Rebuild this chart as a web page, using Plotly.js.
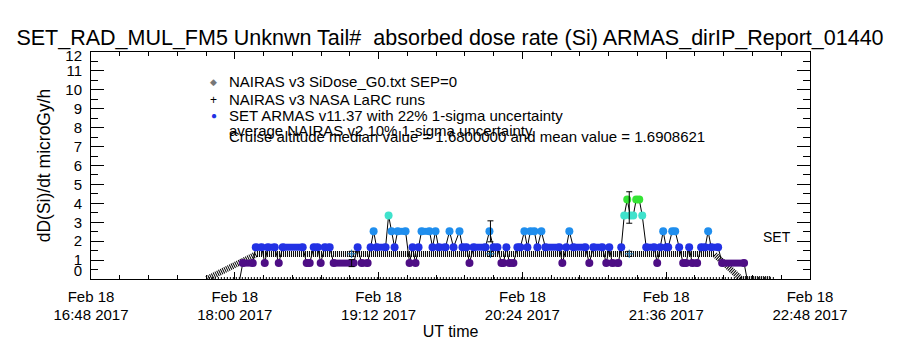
<!DOCTYPE html>
<html>
<head>
<meta charset="utf-8">
<script src="https://cdn.plot.ly/plotly-3.0.1.min.js"></script>
<style>html,body{margin:0;padding:0;background:#fff;}#chart{width:900px;height:350px;}</style>
</head>
<body>
<div id="chart"></div>
<script>
// ---------------- data ----------------
const flightDate = '2017-02-18';

// ARMAS SET dose rate samples (UT, microGy/h); consecutive equal values = constant run
const armasTime = ['18:02:30','18:04:00','18:09:00','18:10:30','18:13:30','18:15:00','18:16:30','18:20:00','18:22:00','18:24:00',
 '18:34:00','18:36:00','18:37:30','18:39:30','18:41:30','18:43:00','18:45:00','18:47:30','18:49:30','18:59:30',
 '19:01:30','19:03:30','19:06:30','19:08:00','19:09:30','19:11:00','19:15:30','19:17:00','19:18:30','19:20:00',
 '19:21:30','19:25:30','19:27:30','19:29:00','19:30:30','19:32:00','19:33:30','19:37:30','19:39:00','19:40:30',
 '19:42:00','19:45:30','19:47:30','19:49:30','19:52:30','19:54:00','19:56:00','19:57:30','19:59:30','20:05:30',
 '20:07:30','20:09:30','20:11:30','20:13:30','20:14:30','20:16:00','20:17:30','20:19:30','20:21:30','20:23:00',
 '20:25:00','20:26:30','20:28:00','20:30:00','20:31:30','20:33:30','20:35:30','20:42:30','20:44:00','20:46:00',
 '20:47:30','20:49:30','20:55:30','20:57:30','20:59:30','21:04:00','21:06:00','21:07:30','21:09:00','21:12:00',
 '21:13:30','21:15:00','21:16:30','21:18:00','21:19:30','21:21:00','21:22:30','21:24:00','21:26:00','21:30:00',
 '21:31:30','21:33:00','21:34:30','21:36:00','21:37:00','21:39:00','21:40:30','21:42:30','21:44:30','21:46:00',
 '21:47:30','21:49:00','21:51:30','21:53:30','21:55:30','21:57:00','21:58:30','22:02:00','22:04:00','22:15:00',
 '22:16:30'];
const armasDose = [0,0.84,0.84,1.68,1.68,0.84,1.68,1.68,0.84,1.68,
 1.68,0.84,0.84,1.68,1.68,0.84,1.68,1.68,0.84,0.84,
 1.68,0.84,0.84,1.68,2.52,1.68,1.68,3.36,2.52,1.68,
 2.52,2.52,0.84,1.68,0.84,1.68,2.52,2.52,1.68,2.52,
 1.68,1.68,2.52,1.68,2.52,1.68,1.68,0.84,1.68,1.68,
 2.52,1.68,1.68,0.84,0.84,1.68,0.84,0.84,1.68,1.68,
 2.52,1.68,2.52,2.52,1.68,2.52,1.68,1.68,0.84,1.68,
 2.52,1.68,1.68,0.84,1.68,1.68,0.84,1.68,0.84,0.84,
 1.68,3.36,4.2,3.36,3.36,4.2,4.2,3.36,1.68,1.68,
 0.84,1.68,2.52,1.68,1.68,2.52,2.52,1.68,0.84,0.84,
 1.68,0.84,0.84,1.68,1.68,2.52,1.68,1.68,0.84,0.84,
 0];

// ARMAS 22% 1-sigma uncertainty points
const armasErrTime = ['18:58:30','20:08:00','21:17:30'];
const armasErrDose = [0.84,2.52,3.78];
const armasErrPct = 22;

// NAIRAS v3 NASA LaRC runs (10% 1-sigma)
const larcTime = ['18:58:30','20:08:00','21:17:30'];
const larcDose = [1.33,1.33,1.33];
const larcErrPct = 10;

// NAIRAS v3 SiDose_G0.txt SEP=0 profile
const nairasTime = ['17:46:00','18:11:00','22:00:00','22:13:30','22:28:30'];
const nairasDose = [0,1.32,1.32,0,0];

// SEP component (zero)
const sepTime = ['17:47:00','22:30:00'];
const sepDose = [0,0];

const doseLevels = [0.84,1.68,2.52,3.36,4.2];
const levelColors = ['#4e0e85','#2231e4','#1f8eee','#3fe2cc','#34e434'];

// y tick labels (as placed by the original plot: end labels pulled inside)
const yTickText = ['0','1','2','3','4','5','6','7','8','9','10','11','12'];
const yTickLabelPos = [0.42,1,2,3,4,5,6,7,8,9,10,11,11.8];

// ---------------- build ----------------
const d = t => flightDate + ' ' + t;
const colorOf = v => levelColors[doseLevels.indexOf(v)];

const traces = [];
traces.push({x: nairasTime.map(d), y: nairasDose, mode:'lines', line:{color:'#000', width:6, dash:'1px,1px'}, hoverinfo:'skip'});
traces.push({x: sepTime.map(d), y: sepDose, mode:'lines', line:{color:'#000', width:4, dash:'1px,2px'}, hoverinfo:'skip'});
traces.push({x: armasTime.map(d), y: armasDose, mode:'lines', line:{color:'#000', width:1}});
doseLevels.forEach((L, k) => {
  const xs = [], ys = [];
  for (let i = 0; i < armasTime.length - 1; i++) {
    if (armasDose[i] === L && armasDose[i+1] === L) {
      xs.push(d(armasTime[i]), d(armasTime[i+1]), null);
      ys.push(L, L, null);
    }
  }
  traces.push({x: xs, y: ys, mode:'lines', line:{color: levelColors[k], width:7}, connectgaps:false});
});
const dotIdx = armasDose.map((v,i)=>i).filter(i => armasDose[i] > 0);
traces.push({x: dotIdx.map(i=>d(armasTime[i])), y: dotIdx.map(i=>armasDose[i]), mode:'markers',
  marker:{size:8, color: dotIdx.map(i=>colorOf(armasDose[i]))}});
traces.push({x: armasErrTime.map(d), y: armasErrDose, mode:'markers', marker:{size:1, color:'rgba(0,0,0,0)'},
  error_y:{type:'data', array: armasErrDose.map(v=>v*armasErrPct/100), color:'#000', thickness:1, width:3}});
traces.push({x: larcTime.map(d), y: larcDose, mode:'markers', marker:{symbol:'cross-thin-open', size:6, line:{color:'#000', width:1}},
  error_y:{type:'data', array: larcDose.map(v=>v*larcErrPct/100), color:'#000', thickness:1, width:3}});
// invisible anchor for the label-only axes
traces.push({x:[d('16:48:00')], y:[0], xaxis:'x2', yaxis:'y2', mode:'markers', marker:{size:1, color:'rgba(0,0,0,0)'}, hoverinfo:'skip'});

const font = 'Liberation Sans, Arial, sans-serif';
const legendX = 0.189, symX = 0.171, legSize = 15;
const annotations = [
  {xref:'paper', yref:'paper', x:symX, y:0.868, text:'◆', showarrow:false, font:{family:font, size:9, color:'#777'}, xanchor:'center', yanchor:'middle'},
  {xref:'paper', yref:'paper', x:legendX, y:0.868, text:'NAIRAS v3 SiDose_G0.txt SEP=0', showarrow:false, font:{family:font, size:legSize, color:'#000'}, xanchor:'left', yanchor:'middle'},
  {xref:'paper', yref:'paper', x:symX, y:0.789, text:'+', showarrow:false, font:{family:font, size:12, color:'#000'}, xanchor:'center', yanchor:'middle'},
  {xref:'paper', yref:'paper', x:legendX, y:0.789, text:'NAIRAS v3 NASA LaRC runs', showarrow:false, font:{family:font, size:legSize, color:'#000'}, xanchor:'left', yanchor:'middle'},
  {xref:'paper', yref:'paper', x:symX, y:0.72, text:'●', showarrow:false, font:{family:font, size:10, color:'#2231e4'}, xanchor:'center', yanchor:'middle'},
  {xref:'paper', yref:'paper', x:legendX, y:0.72, text:'SET ARMAS v11.37 with 22% 1-sigma uncertainty', showarrow:false, font:{family:font, size:legSize, color:'#000'}, xanchor:'left', yanchor:'middle'},
  {xref:'paper', yref:'paper', x:legendX, y:0.655, text:'average NAIRAS v2 10% 1-sigma uncertainty', showarrow:false, font:{family:font, size:legSize, color:'#000'}, xanchor:'left', yanchor:'middle'},
  {xref:'paper', yref:'paper', x:legendX, y:0.626, text:'Cruise altitude median value = 1.6800000 and mean value = 1.6908621', showarrow:false, font:{family:font, size:legSize, color:'#000'}, xanchor:'left', yanchor:'middle'},
  {xref:'x', yref:'y', x:d('22:31:30'), y:2.22, text:'SET', showarrow:false, font:{family:font, size:14, color:'#000'}, xanchor:'center', yanchor:'middle'}
];

const xRange = [d('16:48:00'), d('22:48:00')];
const layout = {
  width:900, height:350,
  margin:{l:91, r:90, t:52, b:71},
  paper_bgcolor:'#fff', plot_bgcolor:'#fff',
  showlegend:false,
  font:{family:font, color:'#000'},
  title:{text:'SET_RAD_MUL_FM5 Unknwn Tail#  absorbed dose rate (Si) ARMAS_dirIP_Report_01440',
    font:{family:font, size:21.5, color:'#000'}, x:0.5, xanchor:'center', xref:'container', y:1-37/350, yanchor:'middle', yref:'container'},
  xaxis:{type:'date', range:xRange, tick0:d('16:48:00'), dtick:4320000, tickformat:'%H:%M %Y',
    ticks:'inside', ticklen:7, tickcolor:'#000', showline:true, linecolor:'#000', linewidth:1, mirror:'ticks', showgrid:false, zeroline:false,
    minor:{tick0:d('16:48:00'), dtick:864000, ticks:'inside', ticklen:4, tickcolor:'#000', showgrid:false},
    tickfont:{family:font, size:15, color:'#000'}, ticklabelstandoff:22,
    title:{text:'UT time', font:{family:font, size:16, color:'#000'}, standoff:3}},
  xaxis2:{type:'date', overlaying:'x', side:'bottom', anchor:'y', range:xRange, tick0:d('16:48:00'), dtick:4320000, tickformat:'%b %d',
    ticks:'', showline:false, showgrid:false, zeroline:false, tickfont:{family:font, size:15, color:'#000'}, ticklabelstandoff:7},
  yaxis:{range:[0,12], dtick:1, tick0:0, ticks:'inside', ticklen:13, tickcolor:'#000', showline:true, linecolor:'#000', linewidth:1, mirror:'ticks',
    showgrid:false, zeroline:false, showticklabels:false, minor:{dtick:0.5, ticks:'inside', ticklen:7, tickcolor:'#000', showgrid:false}},
  yaxis2:{overlaying:'y', side:'left', anchor:'x', range:[0,12], tickmode:'array', tickvals:yTickLabelPos, ticktext:yTickText,
    ticks:'', showline:false, showgrid:false, zeroline:false, tickfont:{family:font, size:15, color:'#000'}, ticklabelstandoff:8,
    title:{text:'dD(Si)/dt microGy/h', font:{family:font, size:17.5, color:'#000'}, standoff:10}},
  annotations: annotations
};

Plotly.newPlot('chart', traces, layout, {displayModeBar:false, staticPlot:true});
</script>
</body>
</html>
